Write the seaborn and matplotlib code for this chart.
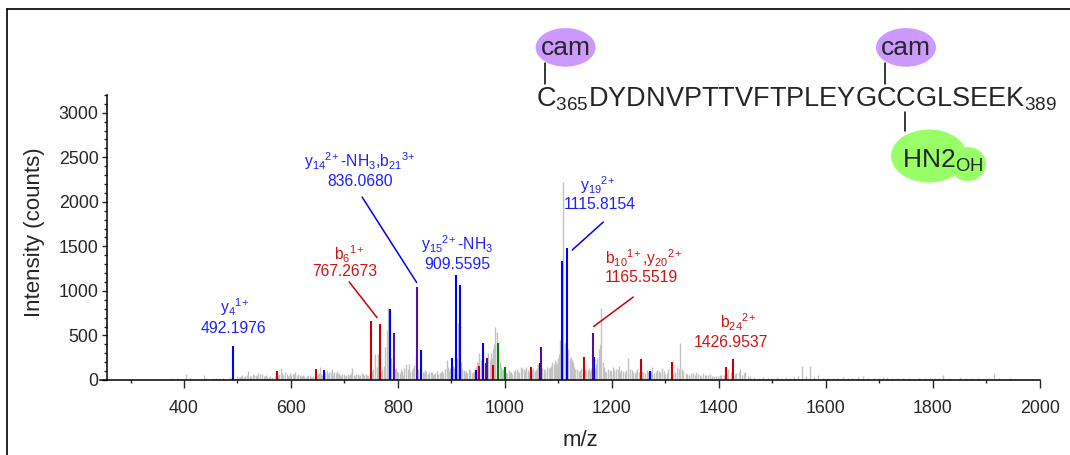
import matplotlib
matplotlib.use("Agg")
import matplotlib.pyplot as plt
import numpy as np
import pandas as pd
import seaborn as sns
from matplotlib.lines import Line2D
from matplotlib.patches import Ellipse
from matplotlib.ticker import MultipleLocator

# unassigned peaks (grey)
GRAY_MZ = [262, 275, 296, 312, 327, 334, 340, 352, 366, 376,
           381, 387, 395, 404, 411, 417, 425, 437, 442, 448,
           454, 460, 466, 473, 480, 486, 499, 504, 509, 514,
           520, 526, 529, 534, 539, 546, 551, 556, 561, 565,
           581, 585, 589, 594, 598, 603, 608, 613, 618, 622,
           628, 632, 638, 642, 650, 654, 658, 667, 671, 676,
           681, 688, 692, 696, 701, 706, 710, 714, 719, 725,
           730, 735, 740, 744, 752, 757, 763, 771, 776, 779,
           781, 788, 796, 800, 805, 810, 815, 820, 826, 831,
           833, 838, 846, 851, 856, 861, 866, 870, 875, 880,
           885, 891, 895, 905, 913, 920, 925, 930, 935, 940,
           944, 948, 952, 957, 962, 969, 972, 976, 980, 982,
           985, 990, 994, 1004, 1009, 1014, 1019, 1024, 1030, 1035,
           1040, 1045, 1053, 1058, 1062, 1073, 1079, 1084, 1088, 1093,
           1097, 1101, 1104, 1109, 1112, 1119, 1123, 1127, 1132, 1138,
           1143, 1152, 1157, 1161, 1170, 1176, 1180, 1185, 1190, 1196,
           1202, 1208, 1213, 1218, 1224, 1231, 1237, 1243, 1248, 1259,
           1265, 1276, 1282, 1288, 1294, 1300, 1306, 1318, 1322, 1327,
           1331, 1338, 1345, 1352, 1358, 1364, 1370, 1377, 1384, 1392,
           1399, 1405, 1418, 1422, 1433, 1440, 1450, 1458, 1466, 1475,
           1483, 1492, 1500, 1508, 1517, 1525, 1533, 1541, 1548, 1556,
           1563, 1570, 1578, 1586, 1595, 1605, 1614, 1622, 1632, 1641,
           1650, 1660, 1670, 1680, 1690, 1700, 1708, 1715, 1724, 1734,
           1745, 1755, 1765, 1775, 1785, 1795, 1805, 1812, 1820, 1830,
           1840, 1852, 1862, 1872, 1884, 1895, 1905, 1915, 1925, 1935,
           1945, 1955, 1965, 1975, 1985]
GRAY_INT = [6, 8, 10, 5, 12, 9, 14, 7, 10, 18,
            14, 22, 12, 65, 20, 16, 10, 52, 24, 15,
            22, 18, 26, 20, 14, 30, 50, 38, 55, 44,
            97, 40, 72, 60, 75, 62, 45, 38, 48, 30,
            135, 60, 90, 50, 78, 66, 85, 70, 40, 55,
            35, 60, 30, 45, 70, 150, 60, 115, 85, 120,
            90, 80, 55, 62, 48, 70, 58, 135, 50, 65,
            55, 70, 62, 48, 97, 290, 292, 120, 374, 560,
            805, 250, 140, 90, 120, 60, 180, 175, 110, 168,
            280, 120, 90, 110, 70, 95, 60, 80, 65, 90,
            75, 225, 100, 140, 643, 120, 90, 80, 110, 95,
            120, 200, 300, 250, 150, 307, 220, 247, 400, 598,
            542, 200, 110, 80, 95, 70, 110, 85, 150, 120,
            150, 90, 130, 110, 180, 120, 150, 130, 200, 225,
            180, 292, 450, 2226, 420, 350, 260, 200, 120, 100,
            130, 110, 140, 120, 180, 350, 805, 150, 90, 110,
            150, 120, 160, 110, 90, 244, 110, 80, 120, 90,
            110, 150, 90, 100, 130, 70, 120, 90, 150, 419,
            120, 80, 60, 75, 90, 60, 80, 55, 70, 45,
            50, 60, 120, 95, 80, 120, 90, 40, 30, 25,
            35, 20, 28, 30, 22, 35, 25, 30, 45, 157,
            40, 161, 30, 56, 20, 25, 18, 22, 30, 18,
            25, 30, 45, 20, 28, 22, 30, 34, 20, 26,
            18, 22, 15, 20, 18, 25, 20, 18, 60, 20,
            15, 30, 20, 18, 22, 15, 20, 75, 18, 15,
            20, 12, 15, 10, 12]

# low-level grey "grass" between the peaks above
GRASS_MZ = [502, 507, 512, 517, 523, 531, 537, 542, 549, 554, 559, 570, 575, 578, 583,
            592, 596, 601, 606, 611, 616, 620, 625, 630, 635, 640, 645, 648, 652, 656,
            661, 664, 669, 674, 679, 684, 686, 690, 694, 699, 703, 708, 712, 717, 722,
            727, 732, 737, 742, 747, 754, 760, 766, 769, 774, 784, 786, 791, 794, 798,
            803, 808, 812, 818, 823, 828, 836, 841, 844, 849, 853, 858, 864, 868, 873,
            878, 883, 888, 893, 898, 903, 908, 911, 918, 923, 928, 933, 938, 942, 946,
            950, 955, 960, 964, 967, 974, 978, 987, 992, 997, 1002, 1007, 1012, 1017, 1022,
            1027, 1033, 1038, 1043, 1048, 1051, 1056, 1060, 1066, 1070, 1076, 1082, 1086, 1091, 1095,
            1099, 1106, 1114, 1117, 1121, 1125, 1130, 1135, 1140, 1146, 1150, 1155, 1159, 1163, 1168,
            1173, 1178, 1183, 1188, 1193, 1199, 1205, 1211, 1216, 1221, 1227, 1234, 1240, 1246, 1251,
            1256, 1262, 1268, 1273, 1279, 1285, 1291, 1297, 1303, 1310, 1315, 1325, 1334, 1341, 1348,
            1355, 1361, 1367, 1374, 1380, 1388, 1395, 1402, 1409, 1415, 1425, 1430, 1437, 1444, 1447,
            1454]
GRASS_INT = [35, 45, 30, 60, 50, 55, 45, 70, 40, 55, 35, 40, 55, 70, 80,
             65, 45, 55, 70, 50, 60, 45, 50, 40, 55, 35, 60, 50, 80, 70,
             60, 90, 70, 95, 60, 75, 100, 65, 50, 70, 55, 60, 80, 60, 70,
             50, 75, 60, 55, 80, 120, 150, 200, 100, 160, 300, 200, 180, 120, 100,
             80, 100, 140, 120, 90, 130, 100, 110, 130, 80, 100, 90, 85, 70, 100,
             80, 100, 120, 150, 130, 160, 180, 250, 200, 110, 100, 120, 80, 100, 150,
             200, 230, 280, 200, 260, 300, 350, 300, 150, 120, 90, 110, 90, 100, 120,
             90, 130, 100, 110, 90, 110, 100, 140, 120, 130, 110, 140, 160, 180, 200,
             250, 300, 380, 300, 250, 230, 150, 120, 110, 100, 120, 110, 100, 150, 130,
             250, 400, 200, 100, 120, 100, 110, 120, 90, 100, 110, 120, 90, 100, 90,
             100, 80, 90, 100, 80, 110, 90, 100, 80, 100, 70, 120, 100, 70, 80,
             60, 70, 50, 60, 55, 50, 45, 55, 60, 80, 90, 70, 90, 60, 80,
             50]

# assigned fragment ions
Y_MZ = [492.1976, 662, 785, 843, 901, 909.5595, 916, 946, 959, 1065, 1107, 1115.8154, 1167, 1271]
Y_INT = [385, 112, 797, 337, 250, 1178, 1066, 112, 411, 187, 1339, 1485, 262, 101]
B_MZ = [573, 646, 749, 767.2673, 951, 964, 978, 1049, 1148, 1254, 1313, 1413.5, 1426.9537]
B_INT = [105, 120, 662, 628, 157, 195, 168, 150, 254, 232, 202, 150, 236]
BY_MZ = [792, 836.0680, 966, 1068, 1165.5519]
BY_INT = [531, 1040, 247, 374, 524]
OTHER_MZ = [987, 1000]
OTHER_INT = [419, 143]

ION_LABELS = [r"$y_4{}^{1\!+}$", r"$b_6{}^{1\!+}$",
              r"$y_{14}{}^{2\!+}$-NH$_3$,$b_{21}{}^{3\!+}$",
              r"$y_{15}{}^{2\!+}$-NH$_3$", r"$y_{19}{}^{2\!+}$",
              r"$b_{10}{}^{1\!+}$,$y_{20}{}^{2\!+}$", r"$b_{24}{}^{2\!+}$"]
MASS_LABELS = ["492.1976", "767.2673", "836.0680", "909.5595", "1115.8154", "1165.5519", "1426.9537"]
LABEL_KIND = ["y", "b", "y", "y", "y", "b", "b"]

# label placement (data coords) and pointer lines
ION_XY = [(494, 752), (709, 1347), (729, 2391), (911, 1459), (1174, 2121), (1259, 1302), (1437, 584)]
MASS_XY = [(492, 533), (701, 1162), (729, 2183), (911, 1251), (1178, 1914), (1255, 1105), (1423, 376)]
POINTERS = [None, ((709, 1100), (761, 700)), ((733, 2054), (835, 1095)), None,
            ((1184, 1773), (1126, 1459)), ((1240, 931), (1166, 600)), None]

COLORS = {"gray": "#c2c2c2", "y": "#0000ff", "b": "#cc0000", "by": "#5010a8", "other": "#008000"}
TEXT_COLORS = {"y": "#1f1fff", "b": "#cc1414"}
WIDTHS = {"gray": 1.0, "y": 1.5, "b": 1.5, "by": 1.5, "other": 1.5}

peaks = pd.concat([
    pd.DataFrame({"mz": GRASS_MZ, "intensity": GRASS_INT, "kind": "gray"}),
    pd.DataFrame({"mz": GRAY_MZ, "intensity": GRAY_INT, "kind": "gray"}),
    pd.DataFrame({"mz": Y_MZ, "intensity": Y_INT, "kind": "y"}),
    pd.DataFrame({"mz": B_MZ, "intensity": B_INT, "kind": "b"}),
    pd.DataFrame({"mz": BY_MZ, "intensity": BY_INT, "kind": "by"}),
    pd.DataFrame({"mz": OTHER_MZ, "intensity": OTHER_INT, "kind": "other"}),
], ignore_index=True)

sns.set_style("ticks")
plt.rcParams["font.family"] = ["Liberation Sans", "DejaVu Sans"]
plt.rcParams["mathtext.default"] = "regular"

W, H = 1070, 455
fig = plt.figure(figsize=(W / 100, H / 100), dpi=100)
ax = fig.add_axes([107 / W, 75 / H, 932.6 / W, 285.1 / H])

for kind, grp in peaks.groupby("kind", sort=False):
    ax.vlines(grp["mz"], 0, grp["intensity"], color=COLORS[kind], lw=WIDTHS[kind])

ax.set_xlim(256, 2000)
ax.set_ylim(0, 3200)
ax.xaxis.set_major_locator(MultipleLocator(200))
ax.xaxis.set_minor_locator(MultipleLocator(100))
ax.yaxis.set_major_locator(MultipleLocator(500))
ax.yaxis.set_minor_locator(MultipleLocator(100))
ax.tick_params(axis="x", which="major", length=5.5, width=1, labelsize=12.8, pad=9, direction="out")
ax.tick_params(axis="x", which="minor", length=2.5, width=1, direction="out")
ax.tick_params(axis="y", which="major", length=3.5, width=1, labelsize=12.8, pad=2.5, direction="out")
ax.tick_params(axis="y", which="minor", length=2, width=1, direction="out")
sns.despine(ax=ax)
for s in ["left", "bottom"]:
    ax.spines[s].set_linewidth(1.1)
    ax.spines[s].set_color("black")
ax.spines["bottom"].set_bounds(243, 2000)

ax.set_xlabel("m/z", fontsize=16)
ax.set_ylabel("Intensity (counts)", fontsize=16)
ax.xaxis.set_label_coords(0.508, -0.175)
ax.yaxis.set_label_coords(-0.066, 0.52)

for i, kind in enumerate(LABEL_KIND):
    c = TEXT_COLORS[kind]
    ax.text(*ION_XY[i], ION_LABELS[i], color=c, fontsize=11.3, ha="center", va="baseline")
    ax.text(*MASS_XY[i], MASS_LABELS[i], color=c, fontsize=11.3, ha="center", va="baseline")
    if POINTERS[i] is not None:
        (x0, y0), (x1, y1) = POINTERS[i]
        ax.plot([x0, x1], [y0, y1], color=COLORS[kind], lw=1.1)

# peptide header, positioned in figure pixels
def fx(x):
    return x / W

def fy(y):
    return 1 - y / H

for cx in [565.6, 906]:
    fig.add_artist(Ellipse((fx(cx), fy(47.4)), 60 / W, 38.6 / H, transform=fig.transFigure,
                           facecolor="#cc99ff", edgecolor="none"))
    fig.text(fx(cx), fy(55), "cam", fontsize=19, ha="center", va="baseline")
fig.add_artist(Ellipse((fx(929), fy(156)), 76 / W, 53 / H, transform=fig.transFigure,
                       facecolor="#99ff66", edgecolor="none"))
fig.add_artist(Ellipse((fx(968), fy(164)), 36 / W, 34 / H, transform=fig.transFigure,
                       facecolor="#99ff66", edgecolor="none"))
fig.text(fx(902), fy(167.7), r"HN2$_{OH}$", fontsize=19, ha="left", va="baseline")
fig.text(fx(536), fy(106.3), r"C$_{365}$DYDNVPTTVFTPLEYGCCGLSEEK$_{389}$", fontsize=19.5,
         ha="left", va="baseline")
for x, y0, y1 in [(544.6, 63, 84), (885, 63, 84), (905.3, 112, 131)]:
    fig.add_artist(Line2D([fx(x), fx(x)], [fy(y0), fy(y1)], transform=fig.transFigure, color="black", lw=1.1))

# outer frame (top and left only)
fig.add_artist(Line2D([fx(7), fx(1070)], [fy(9), fy(9)], transform=fig.transFigure, color="black", lw=1.2))
fig.add_artist(Line2D([fx(7), fx(7)], [fy(9), fy(455)], transform=fig.transFigure, color="black", lw=1.2))

fig.savefig("out.png", dpi=100)
